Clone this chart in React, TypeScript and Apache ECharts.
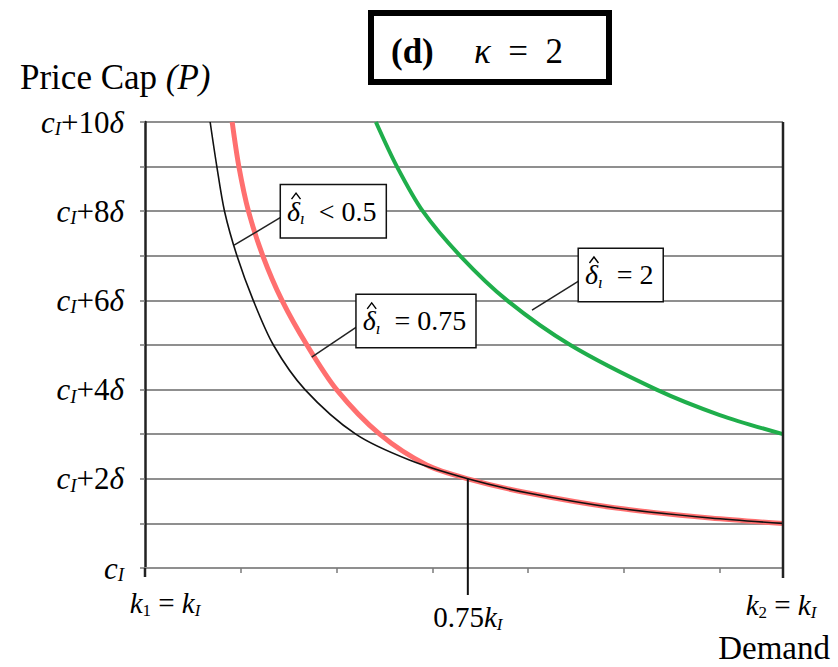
import React, { useEffect, useRef } from 'react';
import * as echarts from 'echarts';

const FONT = 'Liberation Serif';

// Axis set-up (price in units of δ above c_I, demand in arbitrary units)
const maxPrice = 10;
const maxDemand = 6.66;
const thresholdDemand = 3.37; // 0.75 k_I
const thresholdPrice = 2;
const yLabelValues = [0, 2, 4, 6, 8, 10];
const yLabelSuffixes = ['', '+2', '+4', '+6', '+8', '+10'];
const xTickValues = [1, 2, 3, 4, 5, 6];
const kappa = 2;
const panelTag = '(d)';

// Curves
const blackX = [0.68, 0.75, 0.83, 0.96, 1.13, 1.34, 1.67, 2.2, 2.76, 3.37, 4.0, 4.9, 5.9, 6.66];
const blackY = [10, 9, 8, 7, 6, 5, 4, 3, 2.42, 2, 1.68, 1.35, 1.12, 1.0];
const redX = [0.91, 0.98, 1.08, 1.23, 1.43, 1.69, 2.0, 2.45, 2.94, 3.37, 4.0, 4.9, 5.9, 6.66];
const redY = [10, 9, 8, 7, 6, 5, 4, 3, 2.31, 2, 1.68, 1.35, 1.12, 1.0];
const greenX = [2.41, 2.63, 2.9, 3.29, 3.78, 4.44, 5.34, 6.0, 6.66];
const greenY = [10, 9, 8, 7, 6, 5, 4, 3.43, 3.0];

// Callout labels
const labelTexts = ['< 0.5', '= 0.75', '= 2'];
const labelAnchors = [[1.42, 8.0], [2.21, 5.54], [4.53, 6.57]];
const leaderTargets = [[0.93, 7.24], [1.74, 4.73], [4.04, 5.78]];

const zip = (xs: number[], ys: number[]) => xs.map((x, i) => [x, ys[i]]);

const fnt = (size: number, italic = false, bold = false) =>
  `${italic ? 'italic' : 'normal'} ${bold ? 'bold' : 'normal'} ${size}px "${FONT}", serif`;

// rich tokens for ECharts label models
const richAxis = (size: number) => ({
  c: { fontFamily: FONT, fontStyle: 'italic', fontSize: size, color: '#000', lineHeight: 32 },
  d: { fontFamily: FONT, fontStyle: 'italic', fontSize: size, color: '#000', lineHeight: 32 },
  n: { fontFamily: FONT, fontStyle: 'normal', fontSize: size, color: '#000', lineHeight: 32 },
  s: { fontFamily: FONT, fontStyle: 'italic', fontSize: Math.round(size * 0.6), color: '#000', lineHeight: 15, verticalAlign: 'bottom' },
});

// rich tokens for zrender elements
const richZr = (size: number) => ({
  k: { font: fnt(size, true), fill: '#000', lineHeight: 32 },
  n: { font: fnt(size), fill: '#000', lineHeight: 32 },
  s: { font: fnt(Math.round(size * 0.6), true), fill: '#000', lineHeight: 15, verticalAlign: 'bottom' },
  t: { font: fnt(Math.round(size * 0.6)), fill: '#000', lineHeight: 15, verticalAlign: 'bottom' },
});

export default function App() {
  const ref = useRef<HTMLDivElement>(null);
  useEffect(() => {
    document.body.style.margin = '0';
    const chart = echarts.init(ref.current!, null, { renderer: 'svg' });
    const option: any = {
      animation: false,
      backgroundColor: '#fff',
      grid: { left: 145, right: 55, top: 122, bottom: 99 },
      xAxis: {
        type: 'value',
        min: 0,
        max: maxDemand,
        interval: 1,
        axisLine: { show: true, lineStyle: { color: '#8f8f8f', width: 2 } },
        axisTick: { show: true, customValues: xTickValues, length: 5, lineStyle: { color: '#7a7a7a', width: 1.5 } },
        axisLabel: { show: false },
        splitLine: { show: false },
      },
      yAxis: {
        type: 'value',
        min: 0,
        max: maxPrice,
        interval: 1,
        axisLine: { show: true, lineStyle: { color: '#222', width: 2.5 } },
        axisTick: { show: true, length: 5, lineStyle: { color: '#777', width: 1.5 } },
        splitLine: { show: true, lineStyle: { color: '#8f8f8f', width: 2 } },
        axisLabel: {
          margin: 21,
          formatter: (v: number) => {
            const idx = yLabelValues.indexOf(v);
            if (idx < 0) return '';
            const suf = yLabelSuffixes[idx];
            return suf ? `{c|c}{s|I}{n|${suf}}{d|δ}` : '{c|c}{s|I}';
          },
          rich: richAxis(31),
        },
      },
      graphic: [
        { type: 'rect', shape: { x: 371, y: 13, width: 238, height: 69 }, style: { fill: '#fff', stroke: '#000', lineWidth: 6 } },
        { type: 'text', x: 391, y: 51, style: { text: panelTag, font: fnt(35, false, true), fill: '#000', verticalAlign: 'middle' } },
        { type: 'text', x: 474, y: 51, style: { text: `{k|κ}{n|  =  ${kappa}}`, verticalAlign: 'middle', rich: { k: { font: fnt(35, true), fill: '#000' }, n: { font: fnt(35), fill: '#000' } } } },
        { type: 'text', x: 20, y: 77, style: { text: '{n|Price Cap }{i|(P)}', verticalAlign: 'middle', rich: { n: { font: fnt(35), fill: '#000' }, i: { font: fnt(35, true), fill: '#000' } } } },
        { type: 'text', x: 830, y: 648, style: { text: 'Demand', font: fnt(33), fill: '#000', align: 'right', verticalAlign: 'middle' } },
      ],
      series: [
        { type: 'line', data: zip(greenX, greenY), showSymbol: false, smooth: 0.3, lineStyle: { color: '#1fae4b', width: 4 }, z: 3 },
        { type: 'line', data: zip(redX, redY), showSymbol: false, smooth: 0.3, lineStyle: { color: '#ff6f6f', width: 5 }, z: 3 },
        { type: 'line', data: zip(blackX, blackY), showSymbol: false, smooth: 0.3, lineStyle: { color: '#111', width: 1.6 }, z: 4 },
        {
          type: 'custom',
          coordinateSystem: 'cartesian2d',
          clip: false,
          silent: true,
          z: 10,
          data: [[0, 0]],
          renderItem: (_p: any, api: any) => {
            const c = (x: number, y: number) => api.coord([x, y]);
            const o = c(0, 0);
            const tr = c(maxDemand, maxPrice);
            const br = c(maxDemand, 0);
            const th = c(thresholdDemand, thresholdPrice);
            const children: any[] = [
              { type: 'line', shape: { x1: tr[0], y1: tr[1], x2: br[0], y2: br[1] + 10 }, style: { stroke: '#222', lineWidth: 2.5 } },
              { type: 'line', shape: { x1: o[0], y1: o[1], x2: o[0], y2: o[1] + 9 }, style: { stroke: '#222', lineWidth: 2.5 } },
              { type: 'line', shape: { x1: th[0], y1: th[1], x2: th[0], y2: o[1] + 27 }, style: { stroke: '#111', lineWidth: 2 } },
            ];
            labelTexts.forEach((_t, i) => {
              const a = c(labelAnchors[i][0], labelAnchors[i][1]);
              const g = c(leaderTargets[i][0], leaderTargets[i][1]);
              children.push({ type: 'line', shape: { x1: a[0], y1: a[1] + 6, x2: g[0], y2: g[1] }, style: { stroke: '#222', lineWidth: 1.5 } });
            });
            labelTexts.forEach((t, i) => {
              const a = c(labelAnchors[i][0], labelAnchors[i][1]);
              children.push({
                type: 'text', x: a[0], y: a[1],
                style: {
                  text: `{k|δ}{s|ı}{n|  ${t}}`,
                  rich: richZr(28),
                  align: 'left', verticalAlign: 'middle',
                  backgroundColor: '#fff', borderColor: '#111', borderWidth: 1.5,
                  padding: [10, 9, 10, 6],
                },
              });
              const hx = a[0] + 15;
              children.push({
                type: 'polyline',
                shape: { points: [[hx - 4.5, a[1] - 12], [hx, a[1] - 18], [hx + 4.5, a[1] - 12]] },
                style: { stroke: '#000', lineWidth: 1.4, fill: null },
              });
            });
            const xl = [
              { x: 0, dx: 20, dy: 35, text: '{k|k}{t|1}{n| = }{k|k}{s|I}' },
              { x: thresholdDemand, dx: 0, dy: 49, text: '{n|0.75}{k|k}{s|I}' },
              { x: maxDemand, dx: -2, dy: 37, text: '{k|k}{t|2}{n| = }{k|k}{s|I}' },
            ];
            xl.forEach((l) => {
              const p = c(l.x, 0);
              children.push({ type: 'text', x: p[0] + l.dx, y: p[1] + l.dy, style: { text: l.text, rich: richZr(29), align: 'center', verticalAlign: 'middle' } });
            });
            return { type: 'group', children };
          },
        },
      ],
    };
    chart.setOption(option);
    return () => chart.dispose();
  }, []);
  return <div ref={ref} style={{ width: 838, height: 667 }} />;
}
